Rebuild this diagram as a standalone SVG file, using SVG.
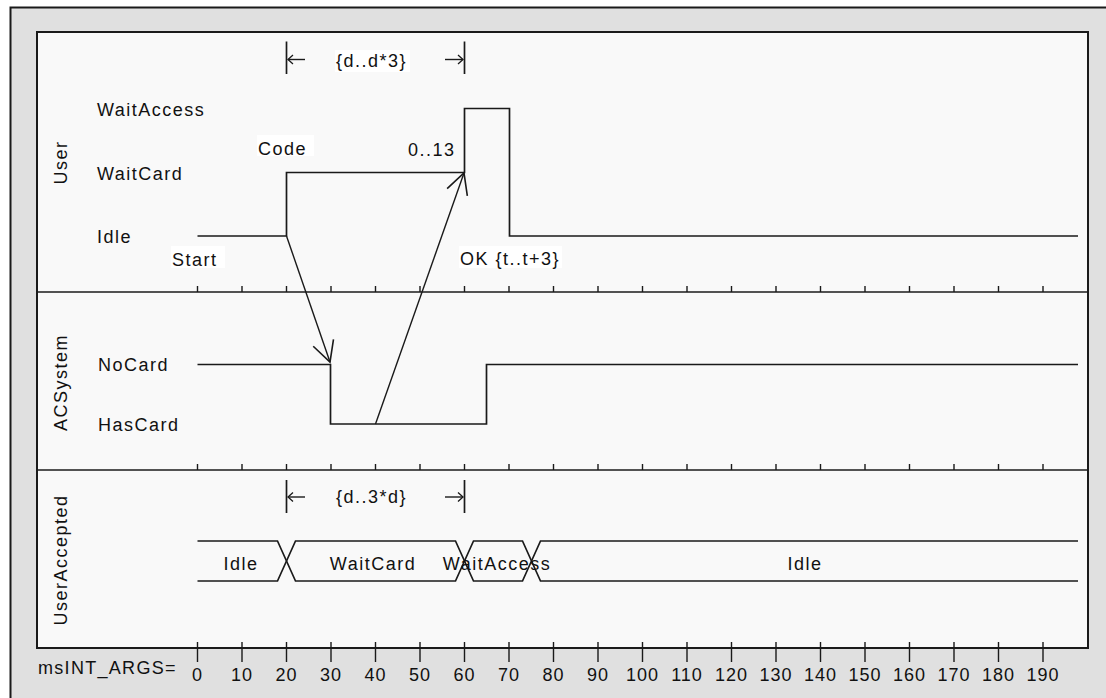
<svg xmlns="http://www.w3.org/2000/svg" width="1106" height="698" viewBox="0 0 1106 698">
  <style>
    .t { font-family: "Liberation Sans", Arial, sans-serif; font-size: 18px; letter-spacing: 1.5px; fill: #111; }
    .m { text-anchor: middle; }
    .ln { stroke: #1a1a1a; stroke-width: 1.7; fill: none; }
    .thin { stroke: #1a1a1a; stroke-width: 1.4; fill: none; }
    .bx { fill: #ffffff; stroke: none; }
  </style>
  <defs>
    <marker id="open" markerUnits="userSpaceOnUse" markerWidth="30" markerHeight="30" viewBox="-24 -14 28 28" refX="0" refY="0" orient="auto">
      <path d="M -19 -10 L 0 0 L -19 10" fill="none" stroke="#1a1a1a" stroke-width="1.5"/>
    </marker>
    <marker id="small" markerUnits="userSpaceOnUse" markerWidth="12" markerHeight="12" viewBox="-8 -6 10 12" refX="0" refY="0" orient="auto">
      <path d="M -5 -4.5 L 0 0 L -5 4.5" fill="none" stroke="#1a1a1a" stroke-width="1.3"/>
    </marker>
  </defs>

  <rect x="0" y="0" width="1106" height="698" fill="#ffffff"/>
  <g id="frame">
    <rect x="10" y="7" width="1096" height="691" fill="#e0e0e0"/>
    <path d="M10.5 698 V7.5 H1106" stroke="#1a1a1a" stroke-width="2" fill="none"/>
    <rect x="37" y="32" width="1051" height="616" fill="#f9f9f9" stroke="#1a1a1a" stroke-width="2"/>
    <line x1="37" y1="292" x2="1088" y2="292" class="ln" stroke-width="2"/>
    <line x1="37" y1="470" x2="1088" y2="470" class="ln" stroke-width="2"/>
  </g>

  <g id="lane-ticks" class="thin">
    <path d="M197.5 286V292M242 286V292M286.5 286V292M331 286V292M375.5 286V292M420 286V292M464.5 286V292M509 286V292M553.5 286V292M598 286V292M642.5 286V292M687 286V292M731.5 286V292M776 286V292M820.5 286V292M865 286V292M909.5 286V292M954 286V292M998.5 286V292M1043 286V292"/>
    <path d="M197.5 464V470M242 464V470M286.5 464V470M331 464V470M375.5 464V470M420 464V470M464.5 464V470M509 464V470M553.5 464V470M598 464V470M642.5 464V470M687 464V470M731.5 464V470M776 464V470M820.5 464V470M865 464V470M909.5 464V470M954 464V470M998.5 464V470M1043 464V470"/>
  </g>

  <g id="lane-user">
    <text class="t m" transform="translate(67,162.5) rotate(-90)">User</text>
    <text class="t" x="97" y="115.5">WaitAccess</text>
    <text class="t" x="97" y="180">WaitCard</text>
    <text class="t" x="97" y="243">Idle</text>
    <path class="ln" d="M197.5 236 H286.5 V172.5 H464.5 V108.5 H509.5 V236 H1078"/>
    <rect class="bx" x="171" y="246" width="54" height="22"/>
    <text class="t" x="172" y="266">Start</text>
    <rect class="bx" x="257" y="135" width="57" height="21"/>
    <text class="t" x="258" y="155">Code</text>
    <text class="t" x="408" y="155.5">0..13</text>
    <rect class="bx" x="459" y="246" width="103" height="22"/>
    <text class="t" x="460" y="264.5">OK {t..t+3}</text>
  </g>

  <g id="lane-acsystem">
    <text class="t m" transform="translate(67,382.5) rotate(-90)">ACSystem</text>
    <text class="t" x="98" y="370.5">NoCard</text>
    <text class="t" x="98" y="431">HasCard</text>
    <path class="ln" d="M197.5 364.5 H330.5 V424 H486.5 V364.5 H1078"/>
  </g>

  <g id="lane-useraccepted">
    <text class="t m" transform="translate(67,560) rotate(-90)">UserAccepted</text>
    <path class="ln" d="M197.5 541 H277.5 L295.5 581 H455.5 L473.5 541 H522.5 L540.5 581 H1078"/>
    <path class="ln" d="M197.5 581 H277.5 L295.5 541 H455.5 L473.5 581 H522.5 L540.5 541 H1078"/>
    <text class="t m" x="241" y="570">Idle</text>
    <text class="t m" x="373" y="570">WaitCard</text>
    <text class="t m" x="497" y="570">WaitAccess</text>
    <text class="t m" x="805" y="570">Idle</text>
  </g>

  <g id="constraints">
    <line class="ln" x1="286.5" y1="41.5" x2="286.5" y2="74"/>
    <line class="ln" x1="464.5" y1="41.5" x2="464.5" y2="74"/>
    <line class="thin" x1="305" y1="59.5" x2="288" y2="59.5" marker-end="url(#small)"/>
    <line class="thin" x1="445" y1="59.5" x2="463" y2="59.5" marker-end="url(#small)"/>
    <rect class="bx" x="335" y="50" width="75" height="22"/>
    <text class="t" x="336" y="66.5">{d..d*3}</text>

    <line class="ln" x1="286.5" y1="480" x2="286.5" y2="513"/>
    <line class="ln" x1="464.5" y1="480" x2="464.5" y2="513"/>
    <line class="thin" x1="305" y1="497" x2="288" y2="497" marker-end="url(#small)"/>
    <line class="thin" x1="445" y1="497" x2="463" y2="497" marker-end="url(#small)"/>
    <text class="t" x="336" y="502.5">{d..3*d}</text>
  </g>

  <g id="connectors">
    <line class="thin" x1="286.5" y1="236" x2="330" y2="362" marker-end="url(#open)"/>
    <line class="thin" x1="375.5" y1="424" x2="464" y2="173" marker-end="url(#open)"/>
  </g>

  <g id="axis">
    <path class="thin" d="M197.5 642V662M242 642V662M286.5 642V662M331 642V662M375.5 642V662M420 642V662M464.5 642V662M509 642V662M553.5 642V662M598 642V662M642.5 642V662M687 642V662M731.5 642V662M776 642V662M820.5 642V662M865 642V662M909.5 642V662M954 642V662M998.5 642V662M1043 642V662"/>
    <text class="t" x="38" y="673.5" style="letter-spacing:1.3px">msINT_ARGS=</text>
    <g class="t m" style="letter-spacing:1px">
      <text x="197.5" y="681">0</text>
      <text x="242" y="681">10</text>
      <text x="286.5" y="681">20</text>
      <text x="331" y="681">30</text>
      <text x="375.5" y="681">40</text>
      <text x="420" y="681">50</text>
      <text x="464.5" y="681">60</text>
      <text x="509" y="681">70</text>
      <text x="553.5" y="681">80</text>
      <text x="598" y="681">90</text>
      <text x="642.5" y="681">100</text>
      <text x="687" y="681">110</text>
      <text x="731.5" y="681">120</text>
      <text x="776" y="681">130</text>
      <text x="820.5" y="681">140</text>
      <text x="865" y="681">150</text>
      <text x="909.5" y="681">160</text>
      <text x="954" y="681">170</text>
      <text x="998.5" y="681">180</text>
      <text x="1043" y="681">190</text>
    </g>
  </g>
</svg>
